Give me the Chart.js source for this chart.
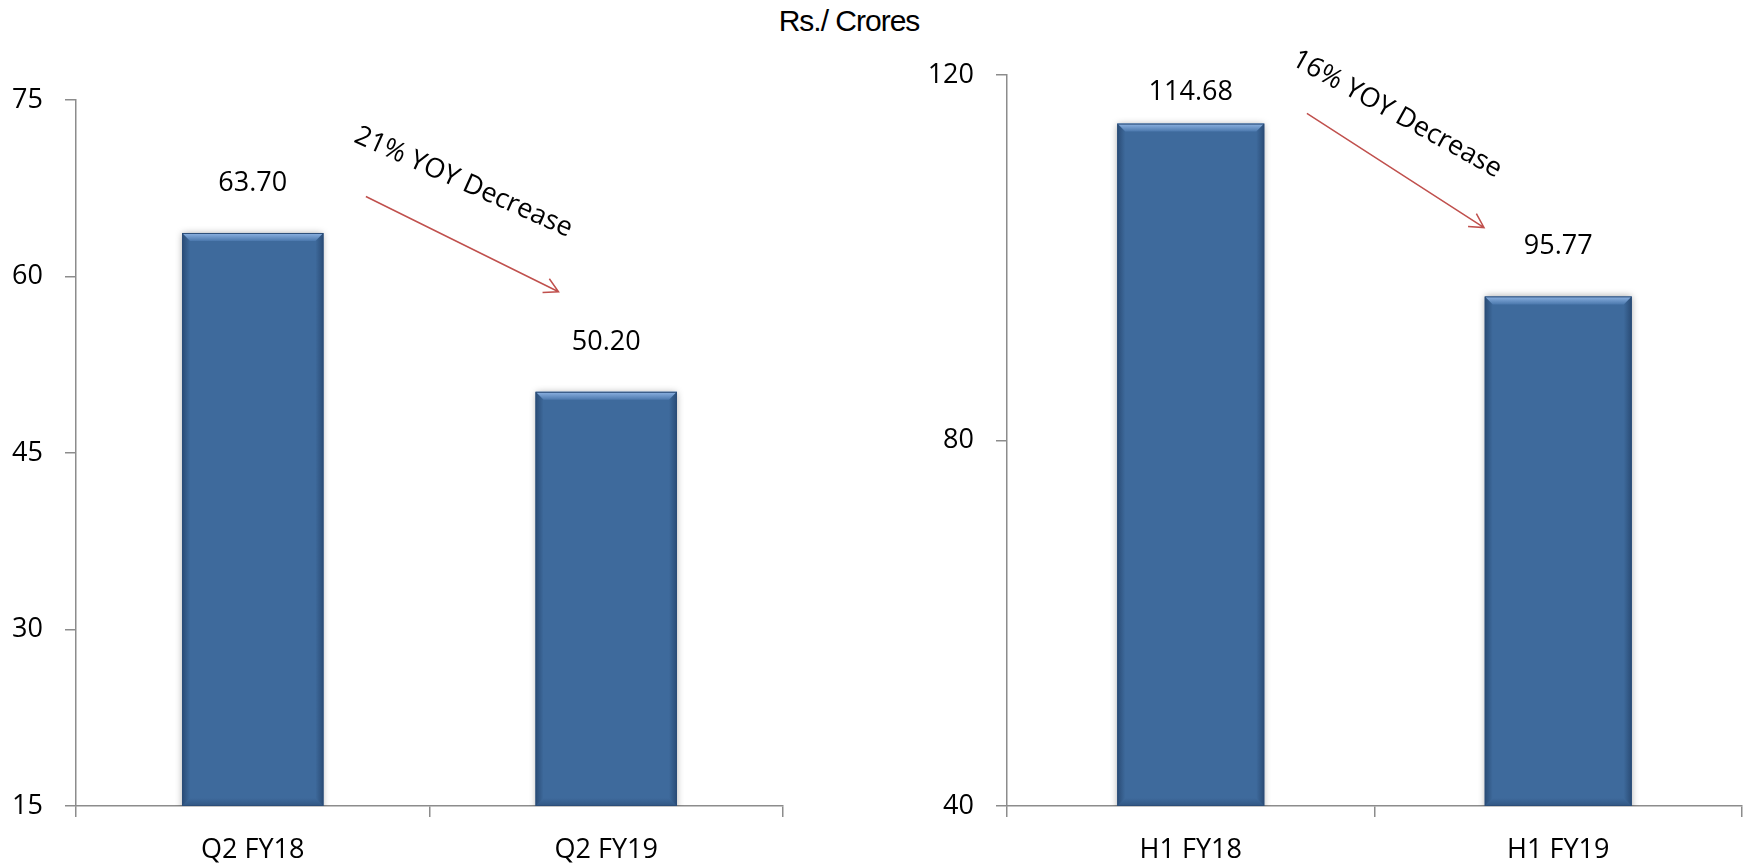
<!DOCTYPE html>
<html>
<head>
<meta charset="utf-8">
<script src="https://cdn.jsdelivr.net/npm/chart.js@4/dist/chart.umd.min.js"></script>
<style>
  html, body { margin: 0; padding: 0; background: #fff; }
  #wrap { position: relative; width: 1744px; height: 863px; overflow: hidden; }
  #title { position: absolute; left: 0; width: 1698px; top: 4px; text-align: center;
           font: 30px "Liberation Sans", Arial, sans-serif; letter-spacing: -1px; color: #000; }
  #quarter { position: absolute; left: 0; top: 0; }
  #half { position: absolute; left: 880px; top: 0; }
</style>
</head>
<body>
<div id="wrap">
  <div id="title">Rs./ Crores</div>
  <canvas id="quarter" width="820" height="863"></canvas>
  <canvas id="half" width="864" height="863"></canvas>
</div>
<script>
// Quarterly comparison
const quarterLabels = ['Q2 FY18', 'Q2 FY19'];
const quarterValues = [63.70, 50.20];
const quarterTicks = [15, 30, 45, 60, 75];
const quarterNote = '21% YOY Decrease';

// Half-yearly comparison
const halfLabels = ['H1 FY18', 'H1 FY19'];
const halfValues = [114.68, 95.77];
const halfTicks = [40, 80, 120];
const halfNote = '16% YOY Decrease';

const FONT = '"Open Sans", "Noto Sans", sans-serif';
const AXIS = '#8c8c8c';
const BAR = '#3e6a9c';
const ARROW = '#c0504d';

// Bevelled look for the bars: light top edge, darker sides
const bevelPlugin = {
  id: 'bevel',
  beforeDatasetsDraw(chart) {
    const ctx = chart.ctx;
    ctx.save();
    ctx.shadowColor = 'rgba(0,0,0,0.35)';
    ctx.shadowBlur = 7;
  },
  afterDatasetsDraw(chart) {
    const ctx = chart.ctx;
    ctx.restore();
    const floor = chart.chartArea.bottom;
    chart.getDatasetMeta(0).data.forEach(bar => {
      const { x, y, base, width } = bar.getProps(['x', 'y', 'base', 'width'], true);
      const b = Math.min(base, floor);
      const l = x - width / 2, r = x + width / 2, d = 8;
      ctx.save();
      let g = ctx.createLinearGradient(0, y, 0, y + d);
      g.addColorStop(0, '#8fb4e3');
      g.addColorStop(1, '#4b78ad');
      ctx.fillStyle = g;
      ctx.beginPath();
      ctx.moveTo(l, y); ctx.lineTo(r, y); ctx.lineTo(r - d, y + d); ctx.lineTo(l + d, y + d);
      ctx.closePath(); ctx.fill();
      g = ctx.createLinearGradient(l, 0, l + d, 0);
      g.addColorStop(0, 'rgba(25,50,85,0.55)');
      g.addColorStop(1, 'rgba(25,50,85,0)');
      ctx.fillStyle = g;
      ctx.beginPath();
      ctx.moveTo(l, y); ctx.lineTo(l + d, y + d); ctx.lineTo(l + d, b - d); ctx.lineTo(l, b);
      ctx.closePath(); ctx.fill();
      g = ctx.createLinearGradient(r, 0, r - d, 0);
      g.addColorStop(0, 'rgba(25,50,85,0.55)');
      g.addColorStop(1, 'rgba(25,50,85,0)');
      ctx.fillStyle = g;
      ctx.beginPath();
      ctx.moveTo(r, y); ctx.lineTo(r - d, y + d); ctx.lineTo(r - d, b - d); ctx.lineTo(r, b);
      ctx.closePath(); ctx.fill();
      g = ctx.createLinearGradient(0, b, 0, b - d);
      g.addColorStop(0, 'rgba(25,50,85,0.35)');
      g.addColorStop(1, 'rgba(25,50,85,0)');
      ctx.fillStyle = g;
      ctx.beginPath();
      ctx.moveTo(l, b); ctx.lineTo(l + d, b - d); ctx.lineTo(r - d, b - d); ctx.lineTo(r, b);
      ctx.closePath(); ctx.fill();
      ctx.strokeStyle = '#2b4d78';
      ctx.lineWidth = 1;
      ctx.strokeRect(l + 0.5, y + 0.5, width - 1, b - y - 1);
      ctx.restore();
    });
  }
};

// Value labels above each bar, kept inside the plot area
const valueLabelPlugin = {
  id: 'valueLabels',
  afterDatasetsDraw(chart) {
    const ctx = chart.ctx;
    const values = chart.data.datasets[0].data;
    ctx.save();
    ctx.font = '27px ' + FONT;
    ctx.fillStyle = '#000';
    ctx.textAlign = 'center';
    ctx.textBaseline = 'middle';
    chart.getDatasetMeta(0).data.forEach((bar, i) => {
      const ty = Math.max(bar.y - 50, chart.chartArea.top + 17);
      ctx.fillText(values[i].toFixed(2), bar.x, ty);
    });
    ctx.restore();
  }
};

// Trend arrow and rotated note, placed in data coordinates
const notePlugin = {
  id: 'note',
  afterDraw(chart, args, opts) {
    const ctx = chart.ctx;
    const xs = chart.scales.x, ys = chart.scales.y;
    const px = p => [xs.getPixelForValue(p[0]), ys.getPixelForValue(p[1])];
    const [x1, y1] = px(opts.from);
    const [x2, y2] = px(opts.to);
    ctx.save();
    ctx.strokeStyle = ARROW;
    ctx.lineWidth = 1.5;
    ctx.beginPath();
    ctx.moveTo(x1, y1); ctx.lineTo(x2, y2);
    const a = Math.atan2(y2 - y1, x2 - x1), h = 16, s = 0.5;
    ctx.moveTo(x2 - h * Math.cos(a - s), y2 - h * Math.sin(a - s));
    ctx.lineTo(x2, y2);
    ctx.lineTo(x2 - h * Math.cos(a + s), y2 - h * Math.sin(a + s));
    ctx.stroke();
    const [tx, ty] = px(opts.at);
    ctx.translate(tx, ty);
    ctx.rotate(opts.angle * Math.PI / 180);
    ctx.font = '27px ' + FONT;
    ctx.fillStyle = '#000';
    ctx.textAlign = 'center';
    ctx.textBaseline = 'middle';
    ctx.fillText(opts.text, 0, 0);
    ctx.restore();
  }
};

function makeChart(id, labels, values, ticks, pad, yWidth, note) {
  return new Chart(document.getElementById(id), {
    type: 'bar',
    data: {
      labels: labels,
      datasets: [{ data: values, backgroundColor: BAR, borderWidth: 0,
                   barPercentage: 0.4, categoryPercentage: 1.0 }]
    },
    options: {
      responsive: false,
      animation: false,
      layout: { padding: pad },
      plugins: { legend: { display: false }, tooltip: { enabled: false }, note: note },
      scales: {
        x: {
          grid: { offset: true, drawOnChartArea: false, drawTicks: true, tickLength: 11,
                  color: AXIS, lineWidth: 1.5 },
          border: { display: true, color: AXIS, width: 1.5 },
          ticks: { color: '#000', font: { family: FONT, size: 27 }, padding: 17 },
          afterFit: s => { s.height = 57; }
        },
        y: {
          min: ticks[0],
          max: ticks[ticks.length - 1],
          afterBuildTicks: s => { s.ticks = ticks.map(v => ({ value: v })); },
          grid: { drawOnChartArea: false, drawTicks: true, tickLength: 11,
                  color: AXIS, lineWidth: 1.5 },
          border: { display: true, color: AXIS, width: 1.5 },
          ticks: { color: '#000', font: { family: FONT, size: 27 }, padding: 22 },
          afterFit: s => { s.width = yWidth; }
        }
      }
    },
    plugins: [bevelPlugin, valueLabelPlugin, notePlugin]
  });
}

makeChart('quarter', quarterLabels, quarterValues, quarterTicks,
  { top: 100, right: 37, left: 0, bottom: 0 }, 76,
  { text: quarterNote, at: [0.596, 68.0], angle: 24, from: [0.32, 66.8], to: [0.865, 58.7] });

makeChart('half', halfLabels, halfValues, halfTicks,
  { top: 75, right: 2, left: 0, bottom: 0 }, 127,
  { text: halfNote, at: [0.561, 115.7], angle: 29, from: [0.316, 115.8], to: [0.798, 103.3] });
</script>
</body>
</html>
